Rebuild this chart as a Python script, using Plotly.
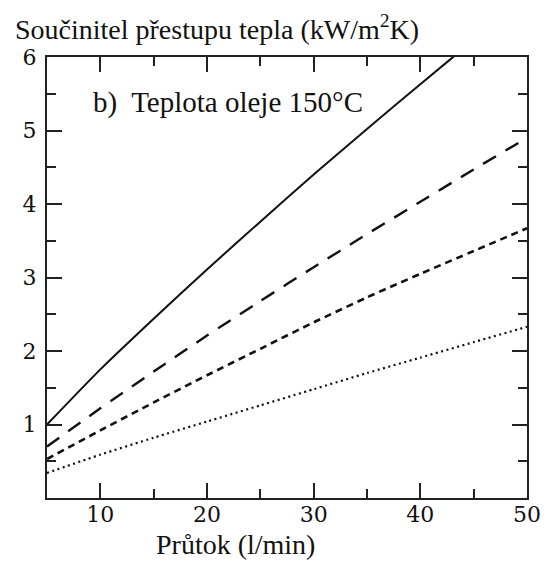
import plotly.graph_objects as go

# Flow rate (l/min)
flow = [5, 10, 15, 20, 25, 30, 35, 40, 45, 50]

# Heat transfer coefficient (kW/m2K) for the four curves
k_solid = [1.00, 1.75, 2.44, 3.11, 3.76, 4.40, 5.02, 5.63, 6.23, 6.82]
k_longdash = [0.70, 1.22, 1.72, 2.21, 2.68, 3.14, 3.59, 4.03, 4.47, 4.90]
k_dash = [0.53, 0.92, 1.30, 1.67, 2.03, 2.39, 2.73, 3.05, 3.36, 3.67]
k_dot = [0.34, 0.59, 0.82, 1.04, 1.26, 1.48, 1.70, 1.91, 2.12, 2.33]

x_ticks = [10, 20, 30, 40, 50]
y_ticks = [1, 2, 3, 4, 5, 6]

series = [
    (k_solid, "solid", 2.0),
    (k_longdash, "15px,11px", 2.4),
    (k_dash, "7px,5px", 2.6),
    (k_dot, "2px,3.5px", 2.2),
]

fig = go.Figure()
for vals, dash, w in series:
    fig.add_trace(go.Scatter(
        x=flow, y=vals, mode="lines",
        line=dict(color="#111111", width=w, dash=dash, shape="spline", smoothing=0.5),
        showlegend=False, hoverinfo="skip",
    ))

serif = "Liberation Serif"
tick_font = dict(family="DejaVu Serif", size=22, color="#111111")
axis_common = dict(
    showgrid=False, zeroline=False,
    showline=True, linecolor="#222222", linewidth=2, mirror="ticks",
    ticks="inside", ticklen=15, tickwidth=2, tickcolor="#222222",
    tickfont=tick_font,
)

fig.update_xaxes(
    range=[5, 50], tickmode="array", tickvals=x_ticks,
    ticktext=[str(v) for v in x_ticks], ticklabelstandoff=-4,
    minor=dict(ticks="inside", dtick=5, tick0=0, ticklen=9, tickwidth=2, tickcolor="#222222"),
    **axis_common,
)
fig.update_yaxes(
    range=[0, 6], tickmode="array", tickvals=y_ticks,
    ticktext=[str(v) for v in y_ticks], ticklabelstandoff=4,
    minor=dict(ticks="inside", dtick=0.5, tick0=0, ticklen=9, tickwidth=2, tickcolor="#222222"),
    **axis_common,
)

text_font = dict(family=serif, size=28, color="#111111")
fig.add_annotation(
    text="Součinitel přestupu tepla (kW/m<sup>2</sup>K)",
    xref="paper", yref="paper", x=-0.0717, y=1.0658,
    xanchor="left", yanchor="middle", showarrow=False, font=text_font,
)
fig.add_annotation(
    text="Průtok (l/min)",
    xref="paper", yref="paper", x=0.393, y=-0.106,
    xanchor="center", yanchor="middle", showarrow=False, font=text_font,
)
fig.add_annotation(
    text="b)  Teplota oleje 150°C",
    xref="paper", yref="paper", x=0.092, y=0.896,
    xanchor="left", yanchor="middle", showarrow=False,
    font=dict(family=serif, size=29, color="#111111"),
)

fig.update_layout(
    width=553, height=562,
    margin=dict(l=47, r=18, t=57, b=64),
    paper_bgcolor="white", plot_bgcolor="white",
)

fig.write_html("out.html")
